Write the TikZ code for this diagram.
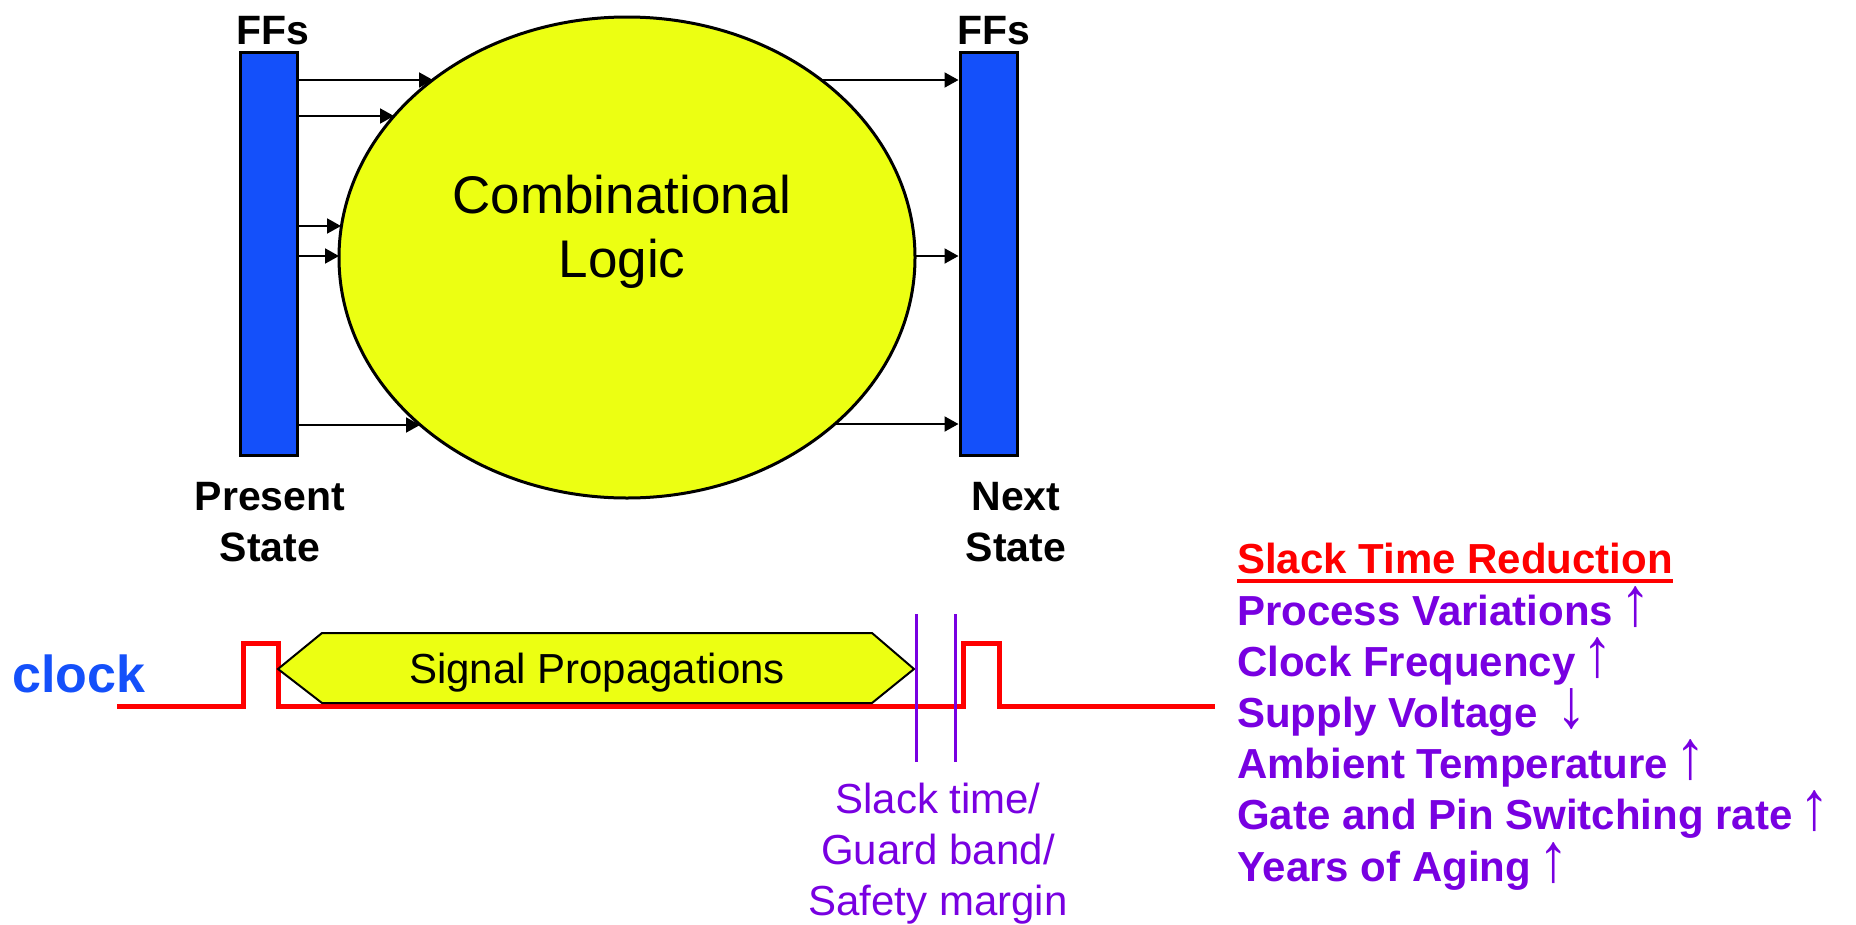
\documentclass[tikz,border=0pt]{standalone}
\usepackage{fontspec}
\setmainfont{Liberation Sans}
\usetikzlibrary{arrows.meta,shapes.geometric}
\definecolor{ffblue}{RGB}{20,80,250}
\definecolor{logicyellow}{RGB}{236,255,18}
\definecolor{slackpurple}{RGB}{120,0,225}
\definecolor{clockred}{RGB}{255,0,0}
\tikzset{
  ffbox/.style={draw=black, line width=3, fill=ffblue, minimum width=57, minimum height=403, inner sep=0},
  sig/.style={draw=black, line width=2, -{Triangle[length=14pt,width=15pt]}},
  ffname/.style={inner sep=0, anchor=base, font=\fontsize{41}{50}\selectfont\bfseries},
  statename/.style={inner sep=0, anchor=base, align=center, font=\fontsize{41}{51}\selectfont\bfseries},
  listitem/.style={inner sep=0, anchor=base west, text=slackpurple, font=\fontsize{42}{51}\selectfont\bfseries},
  marginline/.style={draw=slackpurple, line width=3},
}
% thin, tall trend arrows after the list entries
\newcommand{\uparr}{{\mdseries\,\smash{\scalebox{1.45}[1.65]{↑}}}}
\newcommand{\downarr}{{\mdseries\,\smash{\scalebox{1.45}[1.65]{↓}}}}
\begin{document}
\begin{tikzpicture}[x=1pt,y=-1pt]
\useasboundingbox (0,0) rectangle (1856,924);

% combinational logic block and flip-flop banks
\node[ellipse, draw=black, line width=3, fill=logicyellow, minimum width=576, minimum height=481, inner sep=0] (logic) at (627,257.5) {};
\node[inner sep=0, anchor=base, align=center, font=\fontsize{53}{64}\selectfont] (logictext) at (622,277) {Combinational\\Logic};
\node[ffbox] (ffL) at (269,253.5) {};
\node[ffbox] (ffR) at (988.5,253.5) {};
\node[ffname] (ffLlabel) at (273,44) {FFs};
\node[ffname] (ffRlabel) at (994,44) {FFs};
\node[statename] (present) at (270,561) {Present\\State};
\node[statename] (next) at (1016,561) {Next\\State};

% entry points on the ellipse border
\coordinate (in1) at (433,80);
\coordinate (in2) at (394,116);
\coordinate (in3) at (341,226);
\coordinate (in4) at (339,256);
\coordinate (in5) at (420,425);
\coordinate (out1) at (821,80);
\coordinate (out2) at (915,256);
\coordinate (out3) at (835,424);

\foreach \p in {in1,in2,in3,in4,in5}
  \draw[sig] (ffL.east |- \p) -- (\p);
\foreach \p in {out1,out2,out3}
  \draw[sig] (\p) -- (ffR.west |- \p);

% clock waveform
\node[inner sep=0, anchor=base west, text=ffblue, font=\fontsize{52}{60}\selectfont\bfseries] (clk) at (12,692) {clock};
\draw[clockred, line width=5, line join=miter]
  (117,706) -- (243,706) -- (243,643) -- (278,643) -- (278,706)
  -- (963,706) -- (963,643) -- (999,643) -- (999,706) -- (1215,706);

% signal propagation window
\draw[black, line width=2, fill=logicyellow, line join=miter]
  (278,669) -- (322,633) -- (872,633) -- (914,669) -- (872,703) -- (322,703) -- cycle;
\node[inner sep=0, anchor=base, font=\fontsize{42}{51}\selectfont] (prop) at (597,683) {Signal Propagations};

% slack interval
\draw[marginline] (916,614) -- (916,762);
\draw[marginline] (955,614) -- (955,762);
\node[inner sep=0, anchor=base, align=center, text=slackpurple, font=\fontsize{42}{51}\selectfont] (slack) at (938,915) {Slack time/\\Guard band/\\Safety margin};

% list of slack reducing factors
\node[inner sep=0, anchor=base west, text=clockred, font=\fontsize{42}{51}\selectfont\bfseries] (title) at (1237,573) {Slack Time Reduction};
\draw[clockred, line width=4] ([yshift=-8pt]title.base west) -- ([yshift=-8pt]title.base east);
\node[listitem] (f1) at (1237,625) {Process Variations\uparr};
\node[listitem] (f2) at (1237,676) {Clock Frequency\uparr};
\node[listitem] (f3) at (1237,727) {Supply Voltage \downarr};
\node[listitem] (f4) at (1237,778) {Ambient Temperature\uparr};
\node[listitem] (f5) at (1237,829) {Gate and Pin Switching rate\uparr};
\node[listitem] (f6) at (1237,881) {Years of Aging\uparr};
\end{tikzpicture}
\end{document}
